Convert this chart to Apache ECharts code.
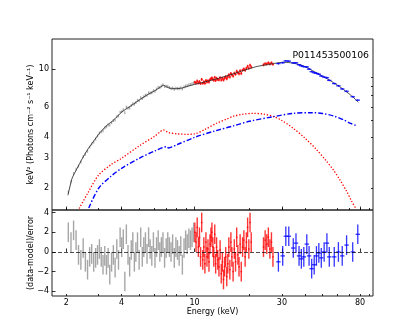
<!DOCTYPE html>
<html><head><meta charset="utf-8">
<script src="https://cdn.jsdelivr.net/npm/echarts@6/dist/echarts.min.js"></script>
<style>html,body{margin:0;padding:0;background:#fff}#c{width:415px;height:332px}</style>
</head><body><div id="c"></div>
<script>
// ---------------- data ----------------
const LE_E = [2.05,2.12,2.19,2.26,2.33,2.40,2.47,2.54,2.61,2.68,2.75,2.82,2.89,2.96,3.03,3.10,3.17,3.24,3.31,3.38,3.45,3.53,3.61,3.69,3.77,3.85,3.93,4.01,4.09,4.17,4.25,4.34,4.43,4.52,4.61,4.70,4.79,4.89,4.99,5.09,5.19,5.29,5.40,5.51,5.62,5.73,5.85,5.97,6.09,6.21,6.34,6.47,6.60,6.73,6.87,7.01,7.15,7.30,7.45,7.60,7.76,7.92,8.08,8.25,8.42,8.59,8.77,8.95,9.13,9.32,9.51,9.70,9.90];
const LE_FLUX = [1.90,2.18,2.44,2.59,2.70,2.85,3.06,3.17,3.30,3.49,3.64,3.74,3.90,4.06,4.22,4.29,4.36,4.53,4.59,4.71,4.70,4.86,5.00,5.03,5.27,5.32,5.59,5.64,5.78,5.56,5.98,5.92,5.92,6.13,6.28,6.23,6.39,6.57,6.54,6.80,6.73,6.90,7.04,7.05,7.27,7.25,7.28,7.49,7.44,7.65,7.82,7.83,7.97,8.11,7.93,7.95,7.92,7.82,7.71,7.77,7.64,7.75,7.73,7.68,7.80,7.66,7.87,7.99,8.01,8.11,8.15,8.23,8.32];
const LE_RES = [2.0,1.0,2.2,1.2,-0.3,-0.8,0.4,-1.0,-1.8,-0.5,-0.2,-1.0,-0.6,-0.3,0.3,-0.5,-1.3,-0.4,-1.3,-0.6,-2.3,-1.0,-0.3,-1.6,0.3,-0.8,1.5,0.5,1.3,-3.0,1.8,-0.3,-1.5,0.2,1.0,-1.0,0.0,1.0,-0.8,1.5,-0.5,0.5,1.0,-0.2,1.5,0.3,-0.4,1.0,-0.6,0.5,1.2,0.0,0.5,1.0,-0.6,0.4,1.0,0.5,0.0,0.8,-0.6,0.5,0.2,-0.4,0.6,-1.3,0.4,1.2,0.8,1.4,1.2,1.5,2.0];

const ME_E = [10.05,10.2,10.35,10.5,10.65,10.8,10.95,11.1,11.25,11.4,11.55,11.7,11.85,12.0,12.15,12.3,12.45,12.6,12.75,12.9,13.05,13.2,13.4,13.6,13.8,14.0,14.2,14.4,14.6,14.8,15.0,15.2,15.4,15.6,15.8,16.0,16.25,16.5,16.75,17.0,17.25,17.5,17.75,18.0,18.3,18.6,18.9,19.2,19.5,19.8,20.1,20.4,23.8,24.3,24.8,25.3,25.8,26.3,26.8];
const ME_FLUX = [8.40,8.31,8.53,8.31,8.47,8.25,8.72,8.27,8.46,8.28,8.59,8.43,8.56,8.42,8.68,8.80,8.90,8.74,8.63,8.97,8.60,8.86,8.72,8.67,8.94,8.65,8.86,8.65,8.87,9.04,8.81,9.03,9.30,9.02,9.45,9.28,9.12,9.48,9.35,9.75,9.55,9.43,9.82,9.46,9.88,10.05,9.86,10.14,10.42,10.13,10.58,10.31,10.63,10.78,10.76,10.91,10.76,10.91,10.71];
const ME_RES = [2.0,1.0,2.5,0.5,1.5,-0.5,3.0,-0.8,0.5,-1.2,1.0,-0.5,0.3,-1.0,0.8,1.5,2.0,0.5,-0.5,1.8,-1.2,0.5,-0.8,-1.5,0.2,-2.2,-1.0,-2.8,-1.5,-0.5,-2.5,-1.2,0.5,-1.8,1.0,-0.5,-2.0,0.3,-1.0,1.5,-0.3,-1.5,0.8,-2.0,0.5,1.2,-0.5,1.0,2.5,0.3,3.0,1.0,0.5,1.2,0.8,1.5,0.3,1.0,-0.5];

const HE_E = [28.7,30.3,31.5,32.7,34.6,35.8,37.2,38.3,39.5,41.0,42.2,43.6,45.0,46.3,47.7,49.2,51.0,52.8,54.4,57.9,61.0,64.0,67.6,73.0,77.8];
const HE_FLUX = [10.80,10.93,11.21,11.17,10.91,10.92,10.63,10.48,10.37,10.33,10.02,9.68,9.55,9.47,9.36,9.13,9.00,8.92,8.61,8.25,8.00,7.67,7.43,6.90,6.59];
const HE_RES = [-1.0,-0.4,1.6,1.6,0.4,0.9,-0.4,-0.7,-0.5,0.8,-0.4,-1.7,-1.3,-0.4,-0.1,-0.6,0.0,0.9,-0.5,-0.5,0.0,-0.4,0.7,0.0,1.8];

const MODEL_E = [2.04,2.15,2.29,2.44,2.6,2.8,3.0,3.3,3.6,4.0,4.5,5.0,5.5,6.1,6.5,6.78,7.1,7.5,8.0,8.5,9.0,10,11,12,13.5,15,16.3,18,20,22,25,27,29,31,34,38,42,46.5,52,57.3,62,67.8,73,78.3];
const MODEL_F = [1.82,2.29,2.62,2.98,3.35,3.75,4.15,4.65,5.0,5.6,6.1,6.6,7.05,7.5,7.85,8.05,7.85,7.7,7.7,7.75,7.9,8.15,8.35,8.55,8.85,9.15,9.4,9.75,10.1,10.4,10.65,10.8,10.95,11.0,10.9,10.6,10.1,9.5,8.9,8.35,7.9,7.35,6.9,6.4];

const COMP1_E = [2.35,2.6,3.0,3.5,4.0,5.0,6.1,6.5,6.78,7.2,8.0,9.0,10,11.5,13.2,15,16.3,18.5,21,24,27,30,34.6,40,46.5,52,57.3,62,67.8,72,76];
const COMP1_F = [1.52,1.85,2.39,2.75,3.0,3.55,4.06,4.3,4.40,4.25,4.18,4.15,4.17,4.45,4.82,5.1,5.3,5.45,5.51,5.45,5.27,5.0,4.5,3.95,3.36,2.92,2.56,2.25,1.91,1.68,1.52];

const COMP2_E = [2.65,3.0,3.5,4.0,5.0,6.1,7.08,7.2,8.0,10,13,16.3,20,27,34.6,44,50,57.3,65,70,76.8];
const COMP2_F = [1.53,2.0,2.35,2.62,3.0,3.32,3.51,3.45,3.6,3.98,4.35,4.65,4.95,5.27,5.51,5.56,5.5,5.32,5.05,4.85,4.66];

const X_MAJOR = [2,4,10,30,80];
const X_MINOR = [2,3,4,5,6,7,8,9,20,30,40,50,60,70,80,90];
const Y_TOP_LABELS = [2,3,4,6,10];
const Y_TOP_MAJOR = [10];
const Y_TOP_MINOR = [2,3,4,5,6,7,8,9];
const Y_RES_TICKS = [-4,-2,0,2,4];
const OBS_ID = 'P011453500106';
const LE_REL_ERR = 0.02, ME_REL_ERR = 0.02, HE_REL_ERR = 0.012;

// ---------------- chart ----------------
const FONT = 'DejaVu Sans';
const X_MIN = 1.67, X_MAX = 94.2, Y_MIN = 1.49, Y_MAX = 15.07, R_MIN = -4.48, R_MAX = 4.27;
const pairs = (a, b) => a.map((v, i) => [v, b[i]]);
const minus = v => String(v).replace('-', '\u2212');

function fluxBar(color, rel, halfW, lw) {
  return function (params, api) {
    const x = api.value(0), y = api.value(1);
    const lo = api.coord([x, y * (1 - rel)]), hi = api.coord([x, y * (1 + rel)]), c = api.coord([x, y]);
    const ch = [{type: 'line', shape: {x1: c[0], y1: lo[1], x2: c[0], y2: hi[1]}, style: {stroke: color, lineWidth: lw}}];
    if (halfW > 0) ch.push({type: 'line', shape: {x1: c[0] - halfW, y1: c[1], x2: c[0] + halfW, y2: c[1]}, style: {stroke: color, lineWidth: lw}});
    return {type: 'group', children: ch};
  };
}
function resBar(color, halfW, lw) {
  return function (params, api) {
    const x = api.value(0), y = api.value(1);
    const lo = api.coord([x, y - 1]), hi = api.coord([x, y + 1]), c = api.coord([x, y]);
    const ch = [{type: 'line', shape: {x1: c[0], y1: lo[1], x2: c[0], y2: hi[1]}, style: {stroke: color, lineWidth: lw}}];
    if (halfW > 0) ch.push({type: 'line', shape: {x1: c[0] - halfW, y1: c[1], x2: c[0] + halfW, y2: c[1]}, style: {stroke: color, lineWidth: lw}});
    return {type: 'group', children: ch};
  };
}

const GL = 52, GW = 321;
const tickStyle = {color: '#000', width: 0.8};
function xAx(grid, ticks, len, labels) {
  return {type: 'log', logBase: 10, gridIndex: grid, min: X_MIN, max: X_MAX, position: 'bottom',
    axisLine: {show: false}, splitLine: {show: false},
    axisTick: {show: true, inside: true, length: len, lineStyle: tickStyle, customValues: ticks},
    axisLabel: labels ? {show: true, customValues: X_MAJOR, fontFamily: FONT, fontSize: 8, color: '#000', margin: 3, formatter: v => String(v)} : {show: false},
    name: labels ? 'Energy (keV)' : '', nameLocation: 'middle', nameGap: 12, nameMoveOverlap: false,
    nameTextStyle: {fontFamily: FONT, fontSize: 8, color: '#000'}};
}

const option = {
  animation: false,
  backgroundColor: '#fff',
  title: {text: OBS_ID, right: 41, top: 46, textStyle: {fontFamily: FONT, fontSize: 9.3, fontWeight: 'normal', color: '#000'}},
  grid: [
    {left: GL, top: 39, width: GW, height: 171, show: true, borderColor: '#222', borderWidth: 1, backgroundColor: 'transparent'},
    {left: GL, top: 210, width: GW, height: 86, show: true, borderColor: '#222', borderWidth: 1, backgroundColor: 'transparent'}
  ],
  xAxis: [xAx(0, X_MAJOR, 3.5, false), xAx(0, X_MINOR, 2, false), xAx(1, X_MAJOR, 3.5, true), xAx(1, X_MINOR, 2, false)],
  yAxis: [
    {type: 'log', logBase: 10, gridIndex: 0, min: Y_MIN, max: Y_MAX, axisLine: {show: false}, splitLine: {show: false},
      axisTick: {show: true, inside: true, length: 3.5, lineStyle: tickStyle, customValues: Y_TOP_MAJOR},
      axisLabel: {customValues: Y_TOP_LABELS, fontFamily: FONT, fontSize: 8, color: '#000', margin: 3, formatter: v => String(v)},
      name: 'keV\u00b2 (Photons cm\u207b\u00b2 s\u207b\u00b9 keV\u207b\u00b9)', nameLocation: 'middle', nameGap: 17, nameRotate: 90, nameMoveOverlap: false,
      nameTextStyle: {fontFamily: FONT, fontSize: 8, color: '#000'}},
    {type: 'log', logBase: 10, gridIndex: 0, min: Y_MIN, max: Y_MAX, axisLine: {show: false}, splitLine: {show: false},
      axisTick: {show: true, inside: true, length: 2, lineStyle: tickStyle, customValues: Y_TOP_MINOR}, axisLabel: {show: false}},
    {type: 'value', gridIndex: 1, min: R_MIN, max: R_MAX, axisLine: {show: false}, splitLine: {show: false},
      axisTick: {show: true, inside: true, length: 3.5, lineStyle: tickStyle, customValues: Y_RES_TICKS},
      axisLabel: {customValues: Y_RES_TICKS, fontFamily: FONT, fontSize: 8, color: '#000', margin: 3, formatter: minus},
      name: '(data-model)/error', nameLocation: 'middle', nameGap: 17, nameRotate: 90, nameMoveOverlap: false,
      nameTextStyle: {fontFamily: FONT, fontSize: 8, color: '#000'}}
  ],
  series: [
    {type: 'custom', xAxisIndex: 0, yAxisIndex: 0, data: pairs(LE_E, LE_FLUX), renderItem: fluxBar('rgba(128,128,128,0.7)', LE_REL_ERR, 0, 1.2), encode: {x: 0, y: 1}, clip: true, z: 2},
    {type: 'custom', xAxisIndex: 0, yAxisIndex: 0, data: pairs(ME_E, ME_FLUX), renderItem: fluxBar('rgba(255,0,0,0.85)', ME_REL_ERR, 1.0, 1.3), encode: {x: 0, y: 1}, clip: true, z: 2},
    {type: 'line', xAxisIndex: 0, yAxisIndex: 0, data: pairs(MODEL_E, MODEL_F), showSymbol: false, smooth: 0.2, lineStyle: {color: 'rgba(40,40,40,0.85)', width: 1}, z: 3},
    {type: 'custom', xAxisIndex: 0, yAxisIndex: 0, data: pairs(HE_E, HE_FLUX), renderItem: fluxBar('rgba(0,0,255,0.85)', HE_REL_ERR, 2.2, 1.2), encode: {x: 0, y: 1}, clip: true, z: 4},
    {type: 'line', xAxisIndex: 0, yAxisIndex: 0, data: pairs(COMP1_E, COMP1_F), showSymbol: false, smooth: 0.3, clip: true, lineStyle: {color: '#ff0000', width: 1.3, type: [1.3, 1.8]}, z: 3},
    {type: 'line', xAxisIndex: 0, yAxisIndex: 0, data: pairs(COMP2_E, COMP2_F), showSymbol: false, smooth: 0.3, clip: true, lineStyle: {color: '#0000ff', width: 1.4, type: [5, 2, 1.4, 2]}, z: 3},
    {type: 'custom', xAxisIndex: 2, yAxisIndex: 2, data: pairs(LE_E, LE_RES), renderItem: resBar('rgba(128,128,128,0.7)', 0, 1.4), encode: {x: 0, y: 1}, clip: true, z: 2,
      markLine: {silent: true, symbol: 'none', label: {show: false}, data: [{yAxis: 0}], lineStyle: {color: 'rgba(0,0,0,0.7)', width: 1.2, type: [4, 2]}, z: 5}},
    {type: 'custom', xAxisIndex: 2, yAxisIndex: 2, data: pairs(ME_E, ME_RES), renderItem: resBar('rgba(255,0,0,0.8)', 0.8, 1.4), encode: {x: 0, y: 1}, clip: true, z: 2},
    {type: 'custom', xAxisIndex: 2, yAxisIndex: 2, data: pairs(HE_E, HE_RES), renderItem: resBar('rgba(0,0,255,0.8)', 2.2, 1.3), encode: {x: 0, y: 1}, clip: true, z: 2}
  ]
};
const chart = echarts.init(document.getElementById('c'), null, {renderer: 'canvas'});
chart.setOption(option);
</script></body></html>
